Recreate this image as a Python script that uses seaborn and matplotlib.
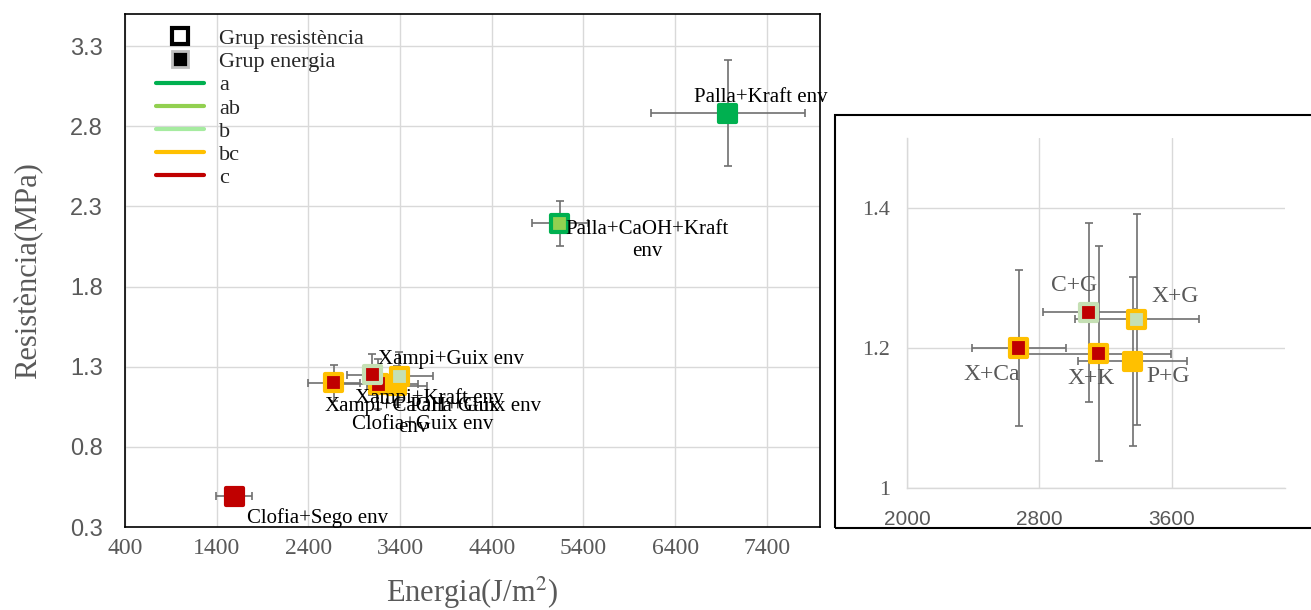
import numpy as np
import pandas as pd
import matplotlib
matplotlib.use("Agg")
import matplotlib.pyplot as plt
import seaborn as sns
from matplotlib.lines import Line2D
from matplotlib.patches import Rectangle

# ---------------- data ----------------
names = ["Palla+Kraft env", "Palla+CaOH+Kraft\nenv", "Clofia+Sego env",
         "Xampi+CaOH+Guix\nenv", "Xampi+Kraft env", "Clofia+Guix env",
         "Palla+Guix env", "Xampi+Guix env"]
short = ["", "", "", "X+Ca", "X+K", "C+G", "P+G", "X+G"]
energy = [6975, 5144, 1589, 2676, 3160, 3099, 3365, 3389]
energy_err = [840, 305, 196, 285, 435, 278, 329, 374]
resist = [2.88, 2.195, 0.493, 1.200, 1.192, 1.251, 1.181, 1.241]
resist_err = [0.33, 0.14, 0.02, 0.112, 0.154, 0.128, 0.121, 0.151]
grp_energy = ["a", "ab", "c", "c", "c", "c", "bc", "b"]
grp_resist = ["a", "a", "c", "bc", "bc", "b", "bc", "bc"]

groups = ["a", "ab", "b", "bc", "c"]
group_colors = {"a": "#00B050", "ab": "#92D050", "b": "#C5E0B4",
                "bc": "#FFC000", "c": "#C00000"}
legend_line_colors = {"a": "#00B050", "ab": "#92D050", "b": "#A6EBA0",
                      "bc": "#FFC000", "c": "#C00000"}

main_xticks = [400, 1400, 2400, 3400, 4400, 5400, 6400, 7400]
main_yticks = [0.3, 0.8, 1.3, 1.8, 2.3, 2.8, 3.3]
inset_xticks = [2000, 2800, 3600]
inset_yticks = [1.0, 1.2, 1.4]
inset_yticklabels = ["1", "1.2", "1.4"]

df = pd.DataFrame({"name": names, "short": short, "energy": energy,
                   "energy_err": energy_err, "resist": resist,
                   "resist_err": resist_err, "genergy": grp_energy,
                   "gresist": grp_resist})
df["edge"] = df["gresist"].map(group_colors)

# label layout (offset points, ha, va)
main_label_layout = [(-24.5, 11.5, "left", "center"),
                     (63, 2, "center", "top"),
                     (9.4, -16, "left", "center"),
                     (57, -10, "center", "top"),
                     (-16.5, -10, "left", "center"),
                     (-15, -36, "left", "center"),
                     (104, -15, "right", "center"),
                     (-15, 12, "left", "center")]
inset_label_layout = {"X+Ca": (-19.4, -19.4), "C+G": (-10.8, 19.4),
                      "X+G": (27.4, 16.6), "X+K": (-5.8, -18),
                      "P+G": (25.2, -10.8)}

# ---------------- style ----------------
sns.set_style("white")
plt.rcParams['font.family'] = ['Liberation Serif', 'DejaVu Serif']
plt.rcParams['mathtext.fontset'] = 'stix'
GRAY = "#595959"
GRID = "#D9D9D9"
ECOL = "#707070"

fig = plt.figure(figsize=(13.11, 6.10), dpi=100)

# ---------------- main axes ----------------
ax = fig.add_axes([125 / 1311, 1 - 527 / 610, 695 / 1311, 513 / 610])
ax.errorbar(df["energy"], df["resist"], xerr=df["energy_err"], yerr=df["resist_err"],
            fmt="none", ecolor=ECOL, elinewidth=1.2, capsize=3, capthick=1.2, zorder=2)
sns.scatterplot(data=df, x="energy", y="resist", hue="genergy", palette=group_colors,
                marker="s", s=150, edgecolor=df["edge"].tolist(), linewidth=3,
                legend=False, ax=ax, zorder=3)
ax.set_xlim(400, 7980)
ax.set_ylim(0.3, 3.5)
ax.set_xticks(main_xticks)
ax.set_yticks(main_yticks)
ax.set_yticklabels([f"{v:.1f}" for v in main_yticks])
ax.grid(True, color=GRID, lw=1)
ax.set_axisbelow(True)
for sp in ax.spines.values():
    sp.set_visible(True)
    sp.set_color("black")
    sp.set_linewidth(1.2)
ax.tick_params(axis="both", direction="inout", length=8, width=1, color="black",
               labelcolor=GRAY)
ax.tick_params(axis="x", labelsize=17, pad=4)
ax.tick_params(axis="y", labelsize=17, pad=12)
for lbl in ax.get_yticklabels():
    lbl.set_fontfamily(["Liberation Sans", "DejaVu Sans"])
ax.set_xlabel("Energia(J/m$^2$)", fontsize=22, color=GRAY, labelpad=11)
ax.set_ylabel("Resistència(MPa)", fontsize=22, color=GRAY)
ax.yaxis.set_label_coords(-0.118, 0.5)

for i, row in df.iterrows():
    dx, dy, ha, va = main_label_layout[i]
    ax.annotate(row["name"], (row["energy"], row["resist"]), xytext=(dx, dy),
                textcoords="offset points", ha=ha, va=va, fontsize=15,
                color="black", multialignment="center", linespacing=1.2,
                zorder=4, annotation_clip=False)

handles = [Line2D([], [], marker="s", ls="none", mfc="white", mec="black", mew=3, ms=12),
           Line2D([], [], marker="s", ls="none", mfc="black", mec="#BFBFBF", mew=2, ms=12)]
handles += [Line2D([], [], color=legend_line_colors[g], lw=3) for g in groups]
labels = ["Grup resistència", "Grup energia"] + groups
leg = ax.legend(handles, labels, loc="upper left", bbox_to_anchor=(0.044, 0.972),
                frameon=False, fontsize=16, handlelength=2.2, handletextpad=0.65,
                labelspacing=0.12, borderpad=0, borderaxespad=0)

# ---------------- inset ----------------
sub = df[df["short"] != ""].copy()
ax2 = fig.add_axes([907 / 1311, 1 - 488 / 610, (1285 - 907) / 1311, (488 - 138) / 610])
ax2.errorbar(sub["energy"], sub["resist"], xerr=sub["energy_err"], yerr=sub["resist_err"],
             fmt="none", ecolor=ECOL, elinewidth=1.2, capsize=3, capthick=1.2, zorder=2)
sns.scatterplot(data=sub, x="energy", y="resist", hue="genergy", palette=group_colors,
                marker="s", s=150, edgecolor=sub["edge"].tolist(), linewidth=3,
                legend=False, ax=ax2, zorder=3)
ax2.set_xlim(2000, 4285)
ax2.set_ylim(1.0, 1.5)
ax2.set_xticks(inset_xticks)
ax2.set_yticks(inset_yticks)
ax2.set_yticklabels(inset_yticklabels)
ax2.grid(True, color=GRID, lw=1)
ax2.set_axisbelow(True)
for k, sp in ax2.spines.items():
    if k in ("top", "right"):
        sp.set_visible(False)
    else:
        sp.set_visible(True)
        sp.set_color(GRID)
        sp.set_linewidth(1)
ax2.tick_params(axis="both", length=0, labelcolor=GRAY)
ax2.tick_params(axis="x", labelsize=15, pad=16)
ax2.tick_params(axis="y", labelsize=16, pad=12)
for lbl in ax2.get_xticklabels():
    lbl.set_fontfamily(["Liberation Sans", "DejaVu Sans"])
ax2.set_xlabel("")
ax2.set_ylabel("")
for _, row in sub.iterrows():
    dx, dy = inset_label_layout[row["short"]]
    ax2.annotate(row["short"], (row["energy"], row["resist"]), xytext=(dx, dy),
                 textcoords="offset points", ha="center", va="center", fontsize=17,
                 color=GRAY, zorder=4)

fig.patches.append(Rectangle((835 / 1311, 1 - 528 / 610), 1.0, (528 - 115) / 610,
                             transform=fig.transFigure, fill=False, ec="black",
                             lw=1.5, clip_on=False))

fig.savefig("out.png", dpi=100)
